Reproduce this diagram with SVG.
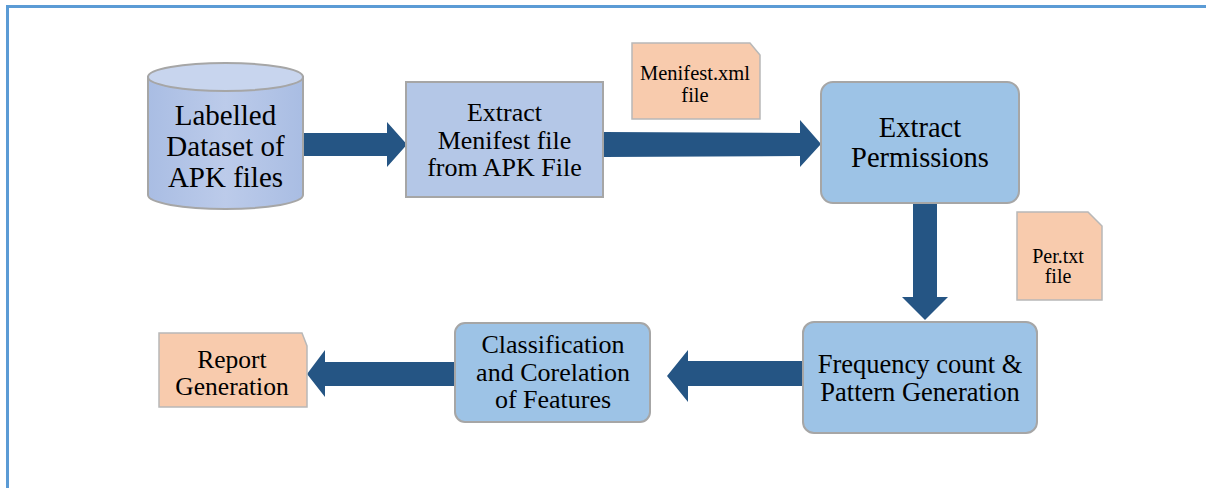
<svg xmlns="http://www.w3.org/2000/svg" width="1206" height="488" viewBox="0 0 1206 488">
<defs>
<style>
.t{font-family:"Liberation Serif","Times New Roman","DejaVu Serif",serif;fill:#000;text-anchor:middle}
.box{fill:#9dc3e6;stroke:#a6a6a6;stroke-width:2}
.box1{fill:#b4c7e7;stroke:#a6a6a6;stroke-width:2}
.note{fill:#f8cbad;stroke:#b8b8b8;stroke-width:1.5}
.arr{fill:#255584}
.frame{stroke:#5b9bd5;stroke-width:3;fill:none}
</style>
<linearGradient id="cyl" x1="0" y1="0" x2="1" y2="0">
<stop offset="0" stop-color="#a9bde3"/>
<stop offset="0.5" stop-color="#bccbea"/>
<stop offset="1" stop-color="#a9bde3"/>
</linearGradient>
</defs>
<rect width="1206" height="488" fill="#fff"/>
<path class="frame" d="M7.5,488 V6.5 H1206"/>

<g id="connectors">
<polygon class="arr" points="303,133 387,133 387,122 407,144.5 387,167 387,156 303,156"/>
<polygon class="arr" points="603,132 800,133 800,120 821,144 800,167 800,156 603,157"/>
<polygon class="arr" points="913,203 937,203 937,297 948,297 925,320 902,297 913,297"/>
<polygon class="arr" points="803,361 688,361 688,350 667,376 688,402 688,386 803,386"/>
<polygon class="arr" points="455,362 325,362 325,350 307,374 325,397 325,386 455,386"/>
</g>

<g id="dataset">
<path d="M148,77 V195 A77.5,14 0 0 0 303,195 V77 Z" fill="url(#cyl)" stroke="#a6a6a6" stroke-width="2"/>
<ellipse cx="225.5" cy="77" rx="77.5" ry="14" fill="#c8d5ee" stroke="#a6a6a6" stroke-width="2"/>
<text class="t" font-size="29" x="225.5" y="125">Labelled</text>
<text class="t" font-size="29" x="225.5" y="156">Dataset of</text>
<text class="t" font-size="29" x="225.5" y="187">APK files</text>
</g>

<g id="extract-manifest">
<rect class="box1" x="406" y="82" width="197" height="115"/>
<text class="t" font-size="26" x="504.5" y="121">Extract</text>
<text class="t" font-size="26" x="504.5" y="148.5">Menifest file</text>
<text class="t" font-size="26" x="504.5" y="176">from APK File</text>
</g>

<g id="manifest-note">
<path class="note" d="M632,43 H750 L760,55 V119 H632 Z"/>
<text class="t" font-size="20.5" x="695" y="80">Menifest.xml</text>
<text class="t" font-size="20.5" x="695" y="102">file</text>
</g>

<g id="extract-permissions">
<rect class="box" x="821" y="82" width="198" height="121" rx="12"/>
<text class="t" font-size="28.5" x="920" y="137">Extract</text>
<text class="t" font-size="28.5" x="920" y="167">Permissions</text>
</g>

<g id="per-note">
<path class="note" d="M1017,212 H1088 L1102,226 V300 H1017 Z"/>
<text class="t" font-size="20" x="1058" y="263">Per.txt</text>
<text class="t" font-size="20" x="1058" y="283">file</text>
</g>

<g id="frequency">
<rect class="box" x="803" y="322" width="234" height="111" rx="11"/>
<text class="t" font-size="26.5" x="920" y="373">Frequency count &amp;</text>
<text class="t" font-size="26.5" x="920" y="401">Pattern Generation</text>
</g>

<g id="classification">
<rect class="box" x="455" y="323" width="195" height="99" rx="10"/>
<text class="t" font-size="26" x="553" y="353">Classification</text>
<text class="t" font-size="26" x="553" y="381">and Corelation</text>
<text class="t" font-size="26" x="553" y="408">of Features</text>
</g>

<g id="report">
<path class="note" d="M159,333 H302 L307,346 V407 H159 Z"/>
<text class="t" font-size="25.5" x="232" y="368">Report</text>
<text class="t" font-size="25.5" x="232" y="395">Generation</text>
</g>
</svg>
